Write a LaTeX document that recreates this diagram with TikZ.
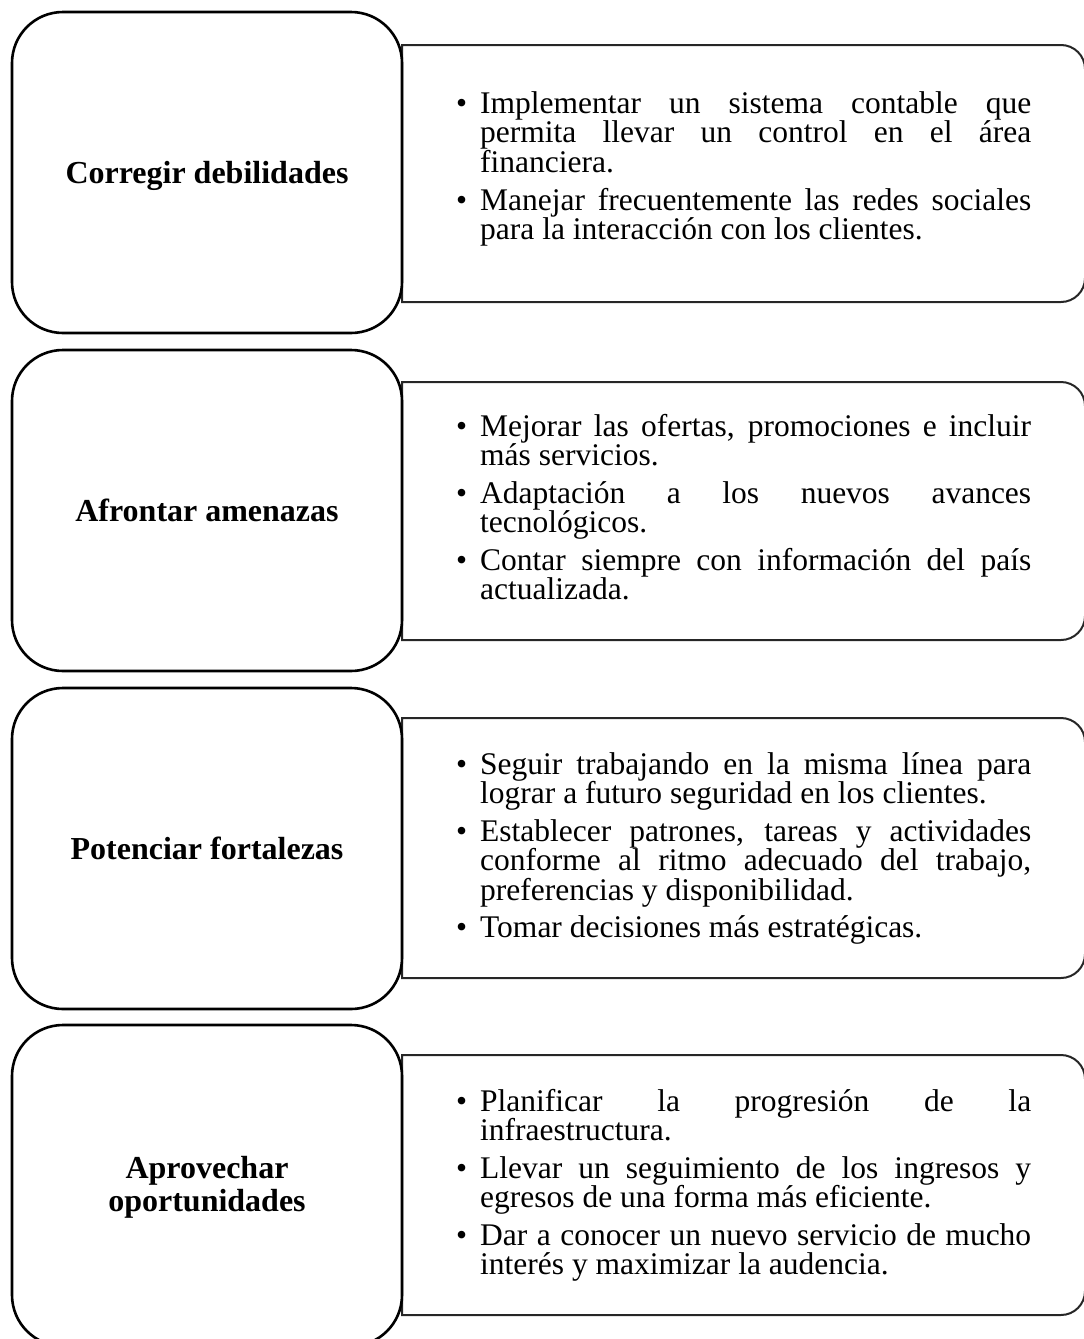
\documentclass[tikz,border=0pt]{standalone}
\usepackage{fontspec}
\setmainfont{Liberation Serif}
\newcommand\Jline[1]{\makebox[551pt][s]{#1}}
\newcommand\Bull{\makebox[24pt][l]{•}}
\begin{document}
\begin{tikzpicture}[x=1pt,y=-1pt,
  lbox/.style={draw=black,line width=2.6pt,rounded corners=51pt},
  rbox/.style={draw=black!85,line width=2pt},
  txt/.style={anchor=base west,inner sep=0pt,font=\fontsize{31.5}{29.5}\selectfont},
  lbl/.style={anchor=base,inner sep=0pt,font=\bfseries\fontsize{32}{33}\selectfont}]
\useasboundingbox (0,0) rectangle (1084,1339);
% right boxes
\foreach \t/\b in {45/302,382/640,718/978,1055/1315}{
  \draw[rbox] (402,\t) -- (1061,\t) arc[start angle=90,end angle=0,radius=24pt]
     -- (1085,\b-24) arc[start angle=0,end angle=-90,radius=24pt] -- (402,\b) -- cycle;
}
% left boxes
\foreach \t in {12,350,688,1025}{
  \draw[lbox] (12,\t) rectangle (402,\t+321);
}
% labels
\node[lbl] (l1) at (207,183) {Corregir debilidades};
\node[lbl] (l2) at (207,521) {Afrontar amenazas};
\node[lbl] (l3) at (207,859) {Potenciar fortalezas};
\node[lbl] (l4a) at (207,1178) {Aprovechar};
\node[lbl] (l4b) at (207,1211) {oportunidades};
% row 1
\node[txt] (a1) at (456,113) {\Bull\Jline{Implementar un sistema contable que}};
\node[txt] (a2) at (480,142.5) {\Jline{permita llevar un control en el área}};
\node[txt] (a3) at (480,172) {financiera.};
\node[txt] (a4) at (456,210) {\Bull\Jline{Manejar frecuentemente las redes sociales}};
\node[txt] (a5) at (480,239.5) {para la interacción con los clientes.};
% row 2
\node[txt] (b1) at (456,436) {\Bull\Jline{Mejorar las ofertas, promociones e incluir}};
\node[txt] (b2) at (480,465.5) {más servicios.};
\node[txt] (b3) at (456,503) {\Bull\Jline{Adaptación a los nuevos avances}};
\node[txt] (b4) at (480,532.5) {tecnológicos.};
\node[txt] (b5) at (456,570) {\Bull\Jline{Contar siempre con información del país}};
\node[txt] (b6) at (480,599.5) {actualizada.};
% row 3
\node[txt] (c1) at (456,774) {\Bull\Jline{Seguir trabajando en la misma línea para}};
\node[txt] (c2) at (480,803.5) {lograr a futuro seguridad en los clientes.};
\node[txt] (c3) at (456,841) {\Bull\Jline{Establecer patrones, tareas y actividades}};
\node[txt] (c4) at (480,870.5) {\Jline{conforme al ritmo adecuado del trabajo,}};
\node[txt] (c5) at (480,900) {preferencias y disponibilidad.};
\node[txt] (c6) at (456,937.5) {\Bull Tomar decisiones más estratégicas.};
% row 4
\node[txt] (d1) at (456,1111) {\Bull\Jline{Planificar la progresión de la}};
\node[txt] (d2) at (480,1140.5) {infraestructura.};
\node[txt] (d3) at (456,1178) {\Bull\Jline{Llevar un seguimiento de los ingresos y}};
\node[txt] (d4) at (480,1207.5) {egresos de una forma más eficiente.};
\node[txt] (d5) at (456,1245) {\Bull\Jline{Dar a conocer un nuevo servicio de mucho}};
\node[txt] (d6) at (480,1274.5) {interés y maximizar la audencia.};
\end{tikzpicture}
\end{document}
